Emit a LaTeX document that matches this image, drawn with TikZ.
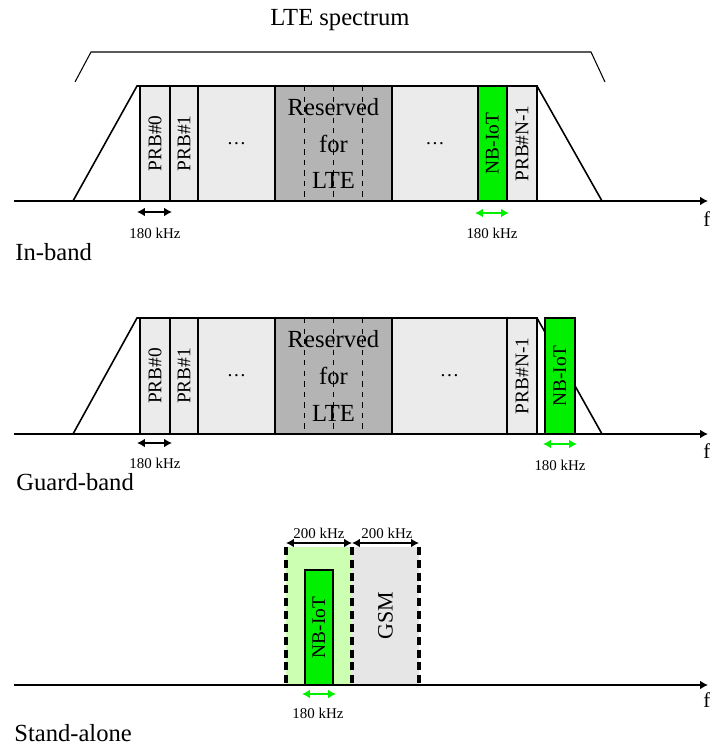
\documentclass[tikz,border=0pt]{standalone}
\usepackage{fontspec}
\setmainfont{Liberation Serif}
\usepackage{graphicx}
\usetikzlibrary{arrows.meta,positioning}

\definecolor{nbGreen} {RGB}{0,  240,   0}
\definecolor{nbLight} {RGB}{204,255, 178}
\definecolor{prbGray} {RGB}{235,235, 235}
\definecolor{resGray} {RGB}{180,180, 180}
\definecolor{gsmGray} {RGB}{230,230, 230}

\tikzset{
  band/.style={draw,line width=0.6pt,inner sep=0pt,outer sep=0pt,anchor=south west,
               minimum height=115*0.02cm,align=center,font=\fontsize{11}{13}\selectfont},
  bigtxt/.style={font=\fontsize{14}{21}\selectfont,inner sep=0pt},
  ftxt/.style={font=\fontsize{12}{14}\selectfont,inner sep=0pt},
  khz/.style={font=\fontsize{8.5}{10}\selectfont,inner sep=0pt},
  khzarrow/.style={line width=1.1pt,{Latex[length=4.5pt,width=5pt]}-{Latex[length=4.5pt,width=5pt]}},
  faxis/.style={line width=1.1pt,-{Latex[length=4.5pt,width=5pt]}},
  slope/.style={line width=0.9pt},
  outer/.style={line width=1.3pt},
  sep/.style={line width=1.9pt,dash pattern=on 4.5pt off 2.8pt}
}

\begin{document}
\begin{tikzpicture}[x=0.02cm,y=-0.02cm]
  \useasboundingbox (0,0) rectangle (709,746);

  % LTE spectrum bracket
  \node[bigtxt] (ltetitle) at (340,20) {LTE spectrum};
  \draw[line width=0.6pt] (75,82) -- (91,52) -- (591,52) -- (605,82);

  % In-band
  \foreach \nm/\xa/\xb/\col/\txt in {
    a/140/170/prbGray/{\rotatebox{90}{PRB\#0}},
    b/170/198/prbGray/{\rotatebox{90}{PRB\#1}},
    c/198/275/prbGray/{\dots},
    r/275/392/resGray/{},
    e/392/478/prbGray/{\dots},
    n/478/507/nbGreen/{\rotatebox{90}{NB-IoT}},
    g/507/537/prbGray/{\rotatebox{90}{PRB\#N-1}}}{
    \node[band,fill=\col,minimum width={(\xb-\xa)*0.02cm}] (in\nm) at (\xa,201) {\txt};
  }
  \foreach \x in {304,333,362}
    \draw[dashed,line width=0.5pt] (\x,86) -- (\x,201);
  \node[bigtxt,align=center] (inrestxt) at (inr.center) {Reserved\\for\\LTE};
  \draw[outer] (ina.south west) -- (ina.north west) -- (ing.north east) -- (ing.south east);
  \draw[slope] (73,201) -- (137,86) -- (ina.north west);
  \draw[slope] (ing.north east) -- (602,201);

  \coordinate (inax0) at (14,201);
  \coordinate (inax1) at (708,201);
  \draw[faxis] (inax0) -- (inax1);
  \node[ftxt,anchor=base west] (inf) at (703,227) {f};

  \coordinate (ink1) at (137,212);
  \coordinate (ink2) at (172,212);
  \coordinate (ink3) at (475,213);
  \coordinate (ink4) at (509,213);
  \draw[khzarrow] (ink1) -- (ink2);
  \draw[khzarrow,nbGreen] (ink3) -- (ink4);
  \node[khz] (inkhz1) at (155,233) {180 kHz};
  \node[khz] (inkhz2) at (492,233) {180 kHz};
  \node[bigtxt,anchor=west] (inlbl) at (15,252) {In-band};

  % Guard-band
  \foreach \nm/\xa/\xb/\col/\txt in {
    a/140/170/prbGray/{\rotatebox{90}{PRB\#0}},
    b/170/198/prbGray/{\rotatebox{90}{PRB\#1}},
    c/198/275/prbGray/{\dots},
    r/275/392/resGray/{},
    e/392/507/prbGray/{\dots},
    g/507/537/prbGray/{\rotatebox{90}{PRB\#N-1}}}{
    \node[band,fill=\col,minimum width={(\xb-\xa)*0.02cm},minimum height=116*0.02cm] (gb\nm) at (\xa,434) {\txt};
  }
  \foreach \x in {304,333,362}
    \draw[dashed,line width=0.5pt] (\x,318) -- (\x,434);
  \node[bigtxt,align=center] (gbrestxt) at (gbr.center) {Reserved\\for\\LTE};
  \draw[outer] (gba.south west) -- (gba.north west) -- (gbg.north east) -- (gbg.south east);
  \draw[slope] (73,434) -- (137,318) -- (gba.north west);
  \draw[slope] (gbg.north east) -- (602,434);
  \node[band,fill=nbGreen,minimum width=30*0.02cm,minimum height=116*0.02cm] (gbn) at (545,434) {\rotatebox{90}{NB-IoT}};

  \coordinate (gbax0) at (14,434);
  \coordinate (gbax1) at (708,434);
  \draw[faxis] (gbax0) -- (gbax1);
  \node[ftxt,anchor=base west] (gbf) at (703,458) {f};

  \coordinate (gbk1) at (137,443);
  \coordinate (gbk2) at (172,443);
  \coordinate (gbk3) at (543,444);
  \coordinate (gbk4) at (577,444);
  \draw[khzarrow] (gbk1) -- (gbk2);
  \draw[khzarrow,nbGreen] (gbk3) -- (gbk4);
  \node[khz] (gbkhz1) at (155,463) {180 kHz};
  \node[khz] (gbkhz2) at (560,465) {180 kHz};
  \node[bigtxt,anchor=west] (gblbl) at (16,482) {Guard-band};

  % Stand-alone
  \node[band,draw=none,fill=nbLight,minimum width=66*0.02cm,minimum height=138*0.02cm] (sal) at (286,685) {};
  \node[band,draw=none,fill=gsmGray,minimum width=67*0.02cm,minimum height=138*0.02cm,
        font=\fontsize{12.5}{15}\selectfont] (sag) at (352,685) {\rotatebox{90}{GSM}};
  \node[band,fill=nbGreen,minimum width=28*0.02cm] (san) at (305,685) {\rotatebox{90}{NB-IoT}};
  \draw[sep] (sal.north west) -- (sal.south west);
  \draw[sep] (sal.north east) -- (sal.south east);
  \draw[sep] (sag.north east) -- (sag.south east);

  \coordinate (saax0) at (14,685);
  \coordinate (saax1) at (708,685);
  \draw[faxis] (saax0) -- (saax1);
  \node[ftxt,anchor=base west] (saf) at (703,707) {f};

  \coordinate (sak1) at (286,543);
  \coordinate (sak2) at (352,543);
  \coordinate (sak3) at (419,543);
  \coordinate (sak4) at (302,694);
  \coordinate (sak5) at (336,694);
  \draw[khzarrow] (sak1) -- (sak2);
  \draw[khzarrow] (sak2) -- (sak3);
  \draw[khzarrow,nbGreen] (sak4) -- (sak5);
  \node[khz] (sakhz1) at (319,533) {200 kHz};
  \node[khz] (sakhz2) at (387,533) {200 kHz};
  \node[khz] (sakhz3) at (318,713) {180 kHz};
  \node[bigtxt,anchor=west] (salbl) at (14,733) {Stand-alone};

\end{tikzpicture}
\end{document}
